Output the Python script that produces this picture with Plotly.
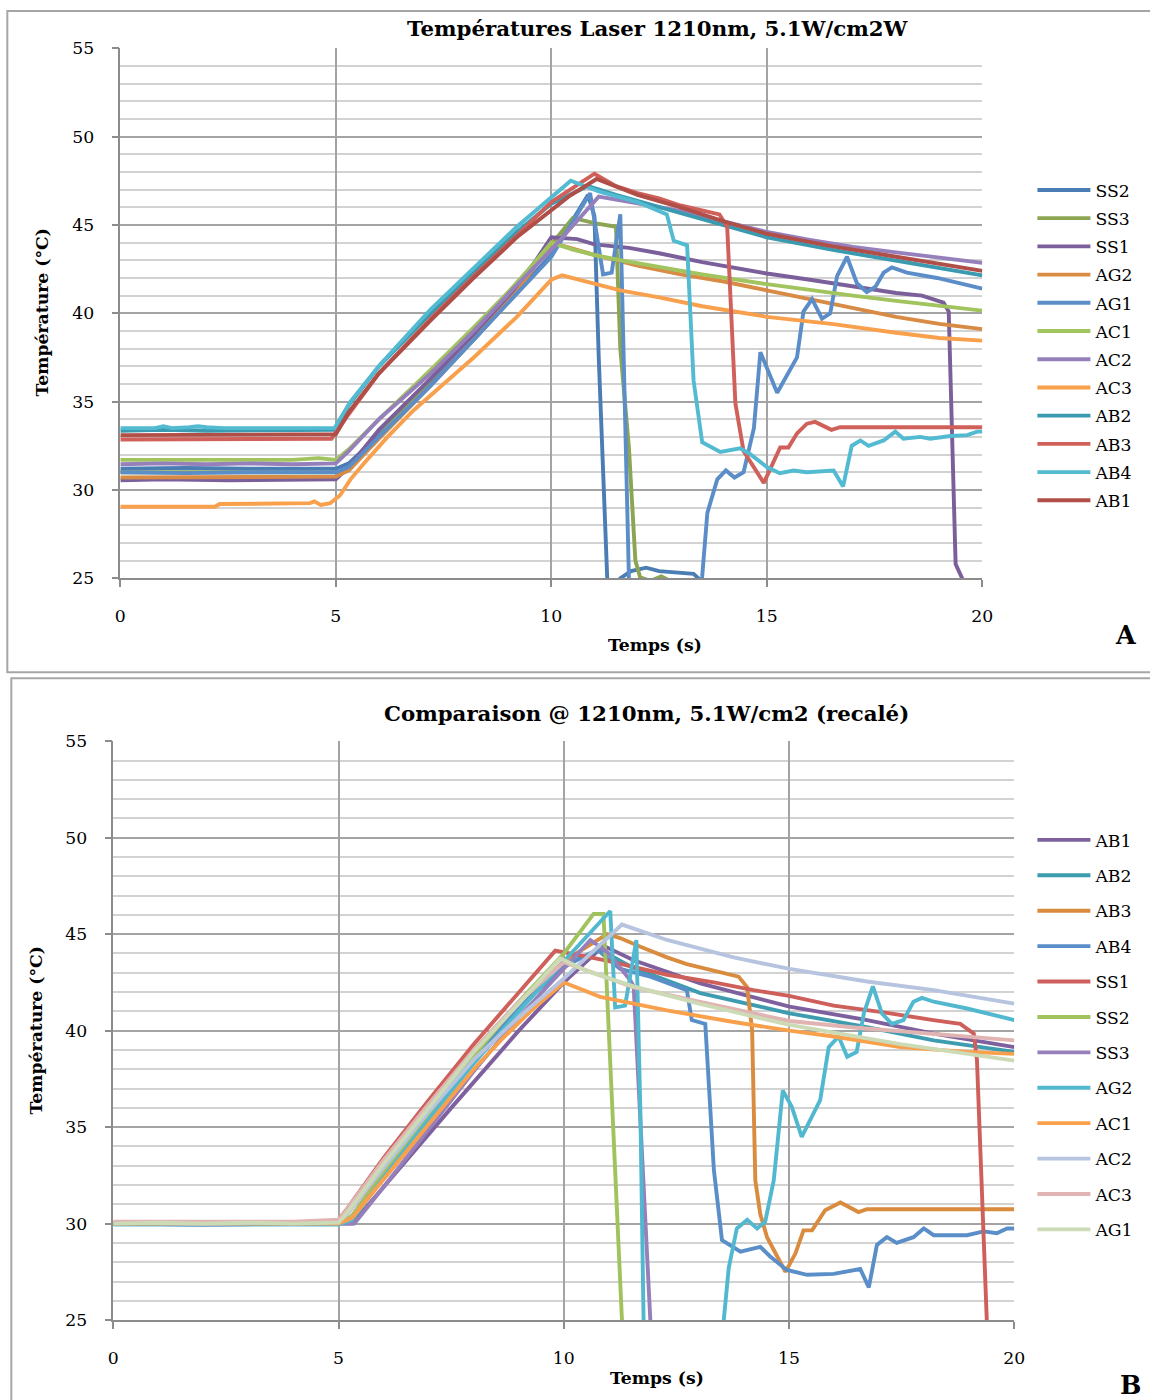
import plotly.graph_objects as go

# ---------------- Panel A data (time s, temperature °C) ----------------
a_ss2_t = [0, 1.5, 3, 4.5, 5.0, 5.3, 6.0, 7.2, 8.2, 9.2, 10.0, 10.85, 11.0, 11.1, 11.2, 11.3, 11.5, 11.6, 11.85, 12.2, 12.5, 13.0, 13.3, 13.5, 14.0, 20.0]
a_ss2_v = [31.2, 31.25, 31.2, 31.2, 31.2, 31.5, 33.1, 36.0, 38.5, 41.2, 43.3, 46.7, 45.5, 37.5, 30.5, 24.8, 22.0, 25.0, 25.4, 25.6, 25.4, 25.3, 25.25, 24.8, 22.0, 21.0]

a_ss3_t = [0, 2, 4, 5.0, 5.3, 6.0, 7.2, 8.2, 9.2, 10.0, 10.5, 11.0, 11.5, 11.6, 11.8, 11.95, 12.06, 12.3, 12.55, 12.8, 13.2, 20]
a_ss3_v = [31.0, 31.0, 31.0, 31.0, 31.1, 33.0, 36.3, 39.0, 41.7, 43.9, 45.4, 45.1, 44.9, 38.0, 32.4, 26.0, 25.05, 24.85, 25.1, 24.8, 22.0, 21.0]

a_ss1_t = [0, 1, 2.5, 4, 5.0, 5.3, 6.0, 7.2, 8.2, 9.2, 10.0, 10.6, 11.0, 11.8, 12.5, 13.5, 15.0, 16.0, 17.0, 18.0, 18.6, 19.1, 19.22, 19.38, 19.55, 20.0]
a_ss1_v = [30.55, 30.6, 30.55, 30.6, 30.6, 31.3, 33.4, 36.3, 38.8, 41.4, 44.3, 44.2, 43.9, 43.7, 43.4, 42.9, 42.25, 41.9, 41.5, 41.15, 41.0, 40.6, 40.1, 25.8, 24.9, 22.0]

a_ag2_t = [0, 2, 4, 5.0, 5.3, 6.0, 7.2, 8.2, 9.2, 10.0, 11.0, 12.0, 13.0, 14.0, 15.0, 16.0, 17.0, 18.0, 19.0, 20.0]
a_ag2_v = [30.7, 30.7, 30.7, 30.75, 31.1, 32.9, 35.9, 38.5, 41.2, 44.0, 43.3, 42.7, 42.2, 41.8, 41.3, 40.8, 40.3, 39.8, 39.4, 39.1]

a_ag1_t = [0, 1.5, 3, 4.5, 5.0, 5.3, 6.0, 7.2, 8.2, 9.2, 10.0, 10.9, 11.2, 11.4, 11.6, 11.8, 12.0, 13.3, 13.5, 13.62, 13.85, 14.05, 14.25, 14.46, 14.7, 14.85, 15.24, 15.7, 15.85, 16.05, 16.28, 16.47, 16.63, 16.86, 17.09, 17.32, 17.52, 17.71, 17.9, 18.25, 18.95, 20.0]
a_ag1_v = [31.0, 30.95, 31.0, 31.0, 31.0, 31.3, 33.0, 35.9, 38.5, 41.1, 43.2, 46.8, 42.2, 42.3, 45.6, 25.0, 22.0, 22.0, 25.1, 28.7, 30.6, 31.1, 30.7, 31.0, 33.5, 37.8, 35.5, 37.5, 40.1, 40.8, 39.7, 40.0, 42.1, 43.2, 41.7, 41.2, 41.5, 42.3, 42.6, 42.3, 42.0, 41.4]

a_ac1_t = [0, 1, 2, 3, 4, 4.6, 5.0, 5.3, 6.0, 7.2, 8.2, 9.2, 10.0, 10.5, 11.0, 11.6, 12.5, 13.5, 15.0, 16.0, 17.0, 18.0, 19.0, 20.0]
a_ac1_v = [31.7, 31.7, 31.75, 31.7, 31.7, 31.8, 31.7, 32.3, 34.0, 36.8, 39.2, 41.7, 44.0, 43.6, 43.3, 43.0, 42.6, 42.2, 41.65, 41.3, 41.0, 40.7, 40.4, 40.15]

a_ac2_t = [0, 1, 2, 3, 4, 5.0, 5.3, 6.0, 7.2, 8.2, 9.2, 10.0, 11.1, 12.0, 13.0, 14.0, 15.0, 16.0, 17.0, 18.0, 19.0, 20.0]
a_ac2_v = [31.45, 31.5, 31.45, 31.5, 31.45, 31.5, 32.2, 34.0, 36.6, 39.0, 41.6, 43.6, 46.6, 46.2, 45.8, 45.2, 44.6, 44.15, 43.75, 43.45, 43.15, 42.85]

a_ac3_t = [0, 1, 2.2, 2.3, 3.5, 4.4, 4.5, 4.65, 4.87, 5.1, 5.34, 5.65, 6.2, 6.8, 7.5, 8.2, 9.2, 10.0, 10.25, 11.0, 11.6, 12.5, 13.5, 15.0, 16.5, 18.0, 19.0, 20.0]
a_ac3_v = [29.05, 29.05, 29.05, 29.2, 29.2, 29.25, 29.35, 29.15, 29.25, 29.7, 30.6, 31.5, 33.0, 34.5, 36.0, 37.5, 39.8, 41.9, 42.15, 41.7, 41.3, 40.9, 40.4, 39.8, 39.4, 38.9, 38.6, 38.45]

a_ab2_t = [0, 1, 2, 3, 4, 5.0, 5.3, 6.0, 7.2, 8.2, 9.2, 10.0, 10.85, 11.5, 12.5, 13.5, 15.0, 16.5, 18.0, 19.0, 20.0]
a_ab2_v = [33.35, 33.4, 33.35, 33.35, 33.4, 33.4, 34.8, 37.0, 40.0, 42.3, 44.6, 46.2, 47.2, 46.7, 46.0, 45.3, 44.3, 43.6, 43.0, 42.6, 42.15]

a_ab3_t = [0, 1, 2, 3, 4, 4.9, 5.3, 6.0, 7.2, 8.2, 9.2, 10.0, 11.0, 11.5, 12.0, 12.5, 13.0, 13.5, 13.9, 14.08, 14.27, 14.46, 14.93, 15.31, 15.5, 15.7, 15.93, 16.12, 16.5, 16.7, 18.0, 20.0]
a_ab3_v = [32.85, 32.85, 32.9, 32.85, 32.85, 32.9, 34.3, 36.6, 39.7, 42.1, 44.4, 46.3, 47.9, 47.2, 46.8, 46.5, 46.1, 45.8, 45.6, 44.9, 34.9, 32.2, 30.4, 32.4, 32.4, 33.2, 33.75, 33.85, 33.4, 33.55, 33.55, 33.55]

a_ab4_t = [0, 0.8, 1.0, 1.2, 1.6, 1.8, 2.0, 2.4, 3, 4, 4.97, 5.34, 6.03, 7.19, 8.2, 9.2, 10.45, 11.1, 12.0, 12.68, 12.84, 13.15, 13.3, 13.5, 13.92, 14.38, 14.6, 15.0, 15.3, 15.62, 15.93, 16.55, 16.77, 16.97, 17.17, 17.36, 17.71, 17.98, 18.17, 18.56, 18.79, 19.26, 19.65, 19.88, 20.0]
a_ab4_v = [33.5, 33.5, 33.6, 33.5, 33.55, 33.6, 33.55, 33.5, 33.5, 33.5, 33.5, 35.0, 37.1, 40.2, 42.6, 44.9, 47.5, 46.9, 46.3, 45.6, 44.1, 43.85, 36.2, 32.7, 32.15, 32.35, 32.05, 31.3, 30.95, 31.1, 31.0, 31.1, 30.2, 32.5, 32.8, 32.5, 32.8, 33.3, 32.9, 33.0, 32.9, 33.05, 33.1, 33.3, 33.3]

a_ab1_t = [0, 1, 2, 3, 4, 5.0, 5.3, 6.0, 7.2, 8.2, 9.2, 10.4, 11.05, 12.0, 13.0, 14.0, 15.0, 16.5, 18.0, 19.0, 20.0]
a_ab1_v = [33.1, 33.1, 33.15, 33.1, 33.1, 33.15, 34.4, 36.6, 39.6, 42.0, 44.3, 46.6, 47.6, 46.7, 46.0, 45.2, 44.5, 43.8, 43.2, 42.8, 42.4]

# ---------------- Panel B data ----------------
b_ab1_t = [0, 2, 4, 5.0, 5.3, 6.0, 7.5, 9.0, 10.0, 10.88, 11.55, 13.03, 15.01, 16.73, 18.21, 20.0]
b_ab1_v = [30.0, 29.95, 30.0, 30.0, 30.0, 31.9, 36.0, 40.0, 42.5, 44.4, 43.65, 42.45, 41.25, 40.55, 39.85, 39.15]

b_ab2_t = [0, 2, 4, 5.0, 5.3, 6.0, 7.0, 8.0, 9.0, 10.0, 10.8, 11.5, 13.03, 15.01, 16.7, 18.21, 20.0]
b_ab2_v = [30.0, 30.0, 29.95, 30.0, 30.3, 32.6, 35.6, 38.6, 41.3, 43.4, 44.2, 43.3, 41.95, 40.9, 40.2, 39.5, 38.9]

b_ab3_t = [0, 2, 4, 5.0, 5.3, 6.0, 7.0, 8.0, 9.0, 10.0, 10.96, 11.25, 11.7, 12.29, 12.73, 13.33, 13.88, 14.07, 14.18, 14.25, 14.36, 14.51, 14.73, 14.92, 15.14, 15.32, 15.51, 15.8, 16.14, 16.54, 16.73, 18.0, 20.0]
b_ab3_v = [30.0, 30.0, 30.0, 30.0, 30.4, 32.7, 35.7, 38.7, 41.4, 43.6, 45.0, 44.8, 44.35, 43.8, 43.45, 43.1, 42.8, 42.25, 40.0, 32.25, 30.5, 29.3, 28.3, 27.5, 28.45, 29.65, 29.65, 30.7, 31.1, 30.6, 30.75, 30.75, 30.75]

b_ab4_t = [0, 2, 4, 5.0, 5.3, 6.0, 7.0, 8.0, 9.0, 10.0, 10.74, 11.25, 11.92, 12.73, 12.84, 13.14, 13.33, 13.51, 13.92, 14.36, 14.58, 14.95, 15.4, 15.99, 16.58, 16.77, 16.95, 17.17, 17.39, 17.76, 17.99, 18.21, 18.95, 19.32, 19.61, 19.84, 20.0]
b_ab4_v = [30.0, 30.0, 30.0, 30.0, 30.3, 32.5, 35.5, 38.5, 41.2, 43.3, 44.2, 43.2, 42.8, 42.1, 40.55, 40.35, 32.8, 29.15, 28.55, 28.8, 28.3, 27.6, 27.35, 27.4, 27.65, 26.7, 28.9, 29.3, 29.0, 29.3, 29.75, 29.4, 29.4, 29.6, 29.5, 29.75, 29.75]

b_ss1_t = [0, 1, 2, 3, 4, 4.8, 5.0, 5.2, 6.0, 7.0, 8.0, 9.0, 9.81, 10.59, 11.0, 12.29, 13.33, 14.21, 15.0, 15.99, 17.1, 18.2, 18.8, 19.1, 19.17, 19.39, 20.0]
b_ss1_v = [30.0, 30.05, 30.05, 30.0, 30.05, 30.1, 30.2, 30.8, 33.4, 36.4, 39.3, 42.0, 44.15, 43.8, 43.6, 42.9, 42.5, 42.1, 41.8, 41.3, 40.95, 40.55, 40.35, 39.85, 38.5, 24.9, 22.0]

b_ss2_t = [0, 2, 4, 5.0, 5.3, 6.0, 7.0, 8.0, 9.0, 10.0, 10.66, 10.88, 10.92, 11.03, 11.29, 11.5, 20.0]
b_ss2_v = [30.0, 30.0, 30.0, 30.0, 30.4, 32.6, 35.7, 38.7, 41.5, 44.0, 46.05, 46.05, 44.0, 37.4, 25.0, 22.0, 22.0]

b_ss3_t = [0, 2, 4, 5.0, 5.35, 6.0, 7.0, 8.0, 9.0, 10.0, 10.59, 11.0, 11.48, 11.55, 11.92, 12.2, 20.0]
b_ss3_v = [30.0, 29.95, 30.0, 30.0, 30.0, 31.9, 34.9, 37.9, 40.7, 43.2, 44.7, 44.0, 42.6, 42.3, 25.0, 22.0, 22.0]

b_ag2_t = [0, 1, 2, 3, 4, 5.0, 5.3, 6.0, 7.0, 8.0, 9.0, 10.0, 11.03, 11.14, 11.36, 11.61, 11.7, 11.77, 12.0, 13.4, 13.55, 13.66, 13.84, 14.07, 14.29, 14.47, 14.66, 14.86, 15.06, 15.28, 15.69, 15.88, 16.1, 16.29, 16.5, 16.66, 16.86, 17.06, 17.28, 17.54, 17.76, 17.95, 18.21, 18.95, 20.0]
b_ag2_v = [29.95, 29.95, 29.95, 29.95, 29.95, 29.95, 30.2, 32.4, 35.4, 38.3, 41.0, 43.6, 46.2, 41.2, 41.3, 44.7, 35.7, 25.0, 22.0, 22.0, 25.0, 27.7, 29.75, 30.2, 29.75, 30.1, 32.25, 36.9, 36.05, 34.5, 36.4, 39.15, 39.7, 38.65, 38.9, 40.9, 42.3, 40.9, 40.35, 40.55, 41.5, 41.7, 41.5, 41.15, 40.55]

b_ac1_t = [0, 2, 4, 5.0, 5.3, 6.0, 7.0, 8.0, 8.6, 9.3, 10.0, 10.81, 12.29, 13.77, 15.01, 15.99, 17.47, 18.95, 20.0]
b_ac1_v = [30.0, 30.0, 30.0, 30.0, 30.3, 32.3, 35.2, 38.0, 39.5, 41.1, 42.5, 41.75, 41.05, 40.45, 40.0, 39.7, 39.15, 38.9, 38.8]

b_ac2_t = [0, 2, 4, 5.0, 5.2, 6.0, 7.0, 8.0, 9.0, 10.0, 11.29, 12.29, 13.77, 15.01, 16.73, 18.21, 20.0]
b_ac2_v = [30.05, 30.0, 30.05, 30.1, 30.5, 32.9, 35.8, 38.5, 40.7, 42.7, 45.5, 44.7, 43.8, 43.2, 42.55, 42.1, 41.4]

b_ac3_t = [0, 1, 2, 3, 4, 5.0, 5.2, 6.0, 7.0, 8.0, 9.0, 10.0, 11.55, 13.0, 15.01, 16.5, 18.21, 20.0]
b_ac3_v = [30.1, 30.1, 30.15, 30.1, 30.1, 30.2, 30.8, 33.3, 36.2, 39.0, 41.5, 43.55, 42.25, 41.5, 40.5, 40.15, 39.85, 39.5]

b_ag1_t = [0, 1, 2, 3, 4, 5.0, 5.2, 6.0, 7.0, 8.0, 9.0, 9.92, 10.5, 11.55, 13.0, 15.01, 17.47, 20.0]
b_ag1_v = [30.0, 30.05, 30.0, 30.05, 30.0, 30.05, 30.6, 33.1, 36.0, 38.9, 41.4, 43.75, 43.1, 42.3, 41.4, 40.3, 39.3, 38.45]

x_ticks = [0, 5, 10, 15, 20]
y_ticks = [25, 30, 35, 40, 45, 50, 55]

title_a = "Températures Laser 1210nm, 5.1W/cm2W"
title_b = "Comparaison @ 1210nm, 5.1W/cm2 (recalé)"
x_title = "Temps (s)"
y_title = "Température (°C)"

series_a = [
    ("SS2", a_ss2_t, a_ss2_v, "#4A7DB4"),
    ("SS3", a_ss3_t, a_ss3_v, "#8CA552"),
    ("SS1", a_ss1_t, a_ss1_v, "#7A5F9A"),
    ("AG2", a_ag2_t, a_ag2_v, "#D88B44"),
    ("AG1", a_ag1_t, a_ag1_v, "#5B8EC8"),
    ("AC1", a_ac1_t, a_ac1_v, "#A1C45F"),
    ("AC2", a_ac2_t, a_ac2_v, "#9680BC"),
    ("AC3", a_ac3_t, a_ac3_v, "#F9A04D"),
    ("AB2", a_ab2_t, a_ab2_v, "#3A9AAF"),
    ("AB3", a_ab3_t, a_ab3_v, "#D0605A"),
    ("AB4", a_ab4_t, a_ab4_v, "#52BAD1"),
    ("AB1", a_ab1_t, a_ab1_v, "#B04E48"),
]
series_b = [
    ("AB1", b_ab1_t, b_ab1_v, "#7D609D"),
    ("AB2", b_ab2_t, b_ab2_v, "#3E9CB0"),
    ("AB3", b_ab3_t, b_ab3_v, "#D98B3E"),
    ("AB4", b_ab4_t, b_ab4_v, "#5A8EC8"),
    ("SS1", b_ss1_t, b_ss1_v, "#CE5F5A"),
    ("SS2", b_ss2_t, b_ss2_v, "#A0C35E"),
    ("SS3", b_ss3_t, b_ss3_v, "#9680BC"),
    ("AG2", b_ag2_t, b_ag2_v, "#52B8CF"),
    ("AC1", b_ac1_t, b_ac1_v, "#F9A04D"),
    ("AC2", b_ac2_t, b_ac2_v, "#B7C4DF"),
    ("AC3", b_ac3_t, b_ac3_v, "#E0B4B2"),
    ("AG1", b_ag1_t, b_ag1_v, "#CCDAB6"),
]

W, H = 1150, 1400
FONT = "DejaVu Serif"

# the captured picture maps page pixels as: shown = S * page + O ; place items by their shown position
SX, OX = 0.98608, 4.67
SY, OY = 0.98585, 9.68
K = 1 / SX  # size compensation


def page_x(t):
    return (t - OX) / SX


def page_y(t):
    return (t - OY) / SY


def px_x(t):
    return page_x(t) / W


def px_y(t):
    return 1 - page_y(t) / H


def fs(s):
    return round(s * K, 2)


fig = go.Figure()
for name, t, v, c in series_a:
    fig.add_trace(go.Scatter(x=t, y=v, name=name, mode="lines", line=dict(color=c, width=3.9),
                             xaxis="x", yaxis="y", legend="legend", legendgroup="a" + name))
for name, t, v, c in series_b:
    fig.add_trace(go.Scatter(x=t, y=v, name=name, mode="lines", line=dict(color=c, width=3.9),
                             xaxis="x2", yaxis="y2", legend="legend2", legendgroup="b" + name))


def xaxis_cfg(domain, anchor):
    return dict(domain=domain, anchor=anchor, range=[0, 20], tickvals=x_ticks,
                showgrid=True, gridcolor="#a3a3a3", gridwidth=1.5, zeroline=False,
                showline=True, linecolor="#8c8c8c", linewidth=1.5,
                ticks="outside", ticklen=7, tickcolor="#8c8c8c", tickwidth=1.5,
                ticklabelstandoff=14,
                tickfont=dict(family=FONT, size=fs(17), color="black"))


def yaxis_cfg(domain, anchor):
    return dict(domain=domain, anchor=anchor, range=[25, 55], tickvals=y_ticks,
                showgrid=True, gridcolor="#a3a3a3", gridwidth=1.5, zeroline=False,
                minor=dict(dtick=1, tick0=25, showgrid=True, gridcolor="#d2d2d2", gridwidth=2, ticks=""),
                showline=True, linecolor="#8c8c8c", linewidth=1.5,
                ticks="outside", ticklen=7, tickcolor="#8c8c8c", tickwidth=1.5,
                ticklabelstandoff=14,
                tickfont=dict(family=FONT, size=fs(17), color="black"))


legend_common = dict(font=dict(family=FONT, size=fs(17), color="black"), xanchor="left", yanchor="top",
                     bgcolor="rgba(0,0,0,0)", borderwidth=0, traceorder="grouped", itemwidth=53)


def ann(text, x, y, size, bold=True, angle=0):
    return dict(text=("<b>" + text + "</b>") if bold else text, x=px_x(x), y=px_y(y),
                xref="paper", yref="paper", xanchor="center", yanchor="middle",
                showarrow=False, textangle=angle, font=dict(family=FONT, size=fs(size), color="black"))


leg_x = (page_x(1037) - 5) / W
leg_a_y = 1 - (page_y(190) - 18.3) / H
leg_b_y = 1 - (page_y(840) - 18.3) / H

fig.update_layout(
    width=W, height=H, margin=dict(l=0, r=0, t=0, b=0),
    paper_bgcolor="white", plot_bgcolor="white",
    showlegend=True,
    xaxis=xaxis_cfg([px_x(120), px_x(982)], "y"),
    yaxis=yaxis_cfg([px_y(578), px_y(48)], "x"),
    xaxis2=xaxis_cfg([px_x(113), px_x(1014)], "y2"),
    yaxis2=yaxis_cfg([px_y(1320), px_y(741)], "x2"),
    legend=dict(x=leg_x, y=leg_a_y, tracegroupgap=2.8, **legend_common),
    legend2=dict(x=leg_x, y=leg_b_y, tracegroupgap=10.0, **legend_common),
    shapes=[
        dict(type="rect", xref="paper", yref="paper", x0=px_x(7), x1=1.02, y0=px_y(672), y1=1 - 1.0 / H,
             line=dict(color="#a6a6a6", width=2), fillcolor="rgba(0,0,0,0)", layer="below"),
        dict(type="rect", xref="paper", yref="paper", x0=px_x(11), x1=1.02, y0=-0.02, y1=px_y(678),
             line=dict(color="#a6a6a6", width=2), fillcolor="rgba(0,0,0,0)", layer="below"),
    ],
    annotations=[
        ann(title_a, 658, 28, 21),
        ann(title_b, 646, 713, 21),
        ann(x_title, 655, 645, 17),
        ann(x_title, 657, 1378, 17),
        ann(y_title, 42, 312, 17, angle=-90),
        ann(y_title, 36, 1030, 17, angle=-90),
        ann("A", 1125, 635, 25),
        ann("B", 1130, 1385, 25),
    ],
)

fig.write_html("out.html",
               config={"displayModeBar": False},
               post_script="document.body.style.margin='0';document.body.style.padding='0';"
                           "document.documentElement.style.overflow='hidden';")
